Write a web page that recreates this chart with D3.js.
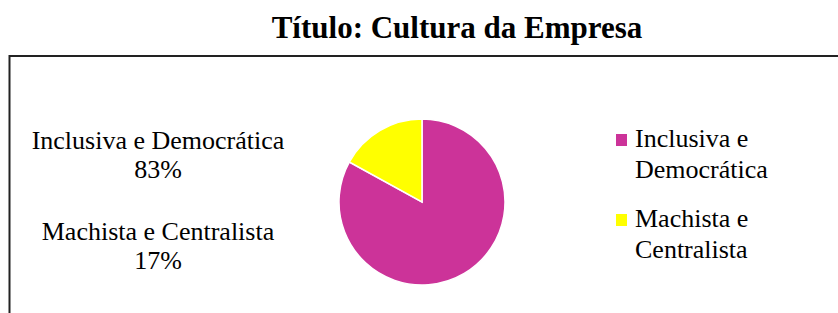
<!DOCTYPE html>
<html>
<head>
<meta charset="utf-8">
<script src="https://cdn.jsdelivr.net/npm/d3@7"></script>
<style>
  body { margin: 0; background: #fff; }
  text { font-family: 'Liberation Serif', 'Times New Roman', serif; fill: #000; }
</style>
</head>
<body>
<div id="chart-container"></div>
<script>
const categories = ['Inclusiva e Democrática', 'Machista e Centralista']
const legendLines = [['Inclusiva e', 'Democrática'], ['Machista e', 'Centralista']]
const values = [83, 17]
const colors = ['#cc3399', '#ffff00']
const title = 'Título: Cultura da Empresa'

const width = 838
const height = 313
const center = { x: 422, y: 202 }
const radius = 83

const svg = d3
  .select('#chart-container')
  .append('svg')
  .attr('width', width)
  .attr('height', height)

// chart area border (runs off the right and bottom)
svg
  .append('rect')
  .attr('x', 9.5)
  .attr('y', 56)
  .attr('width', 860)
  .attr('height', 300)
  .attr('fill', 'none')
  .attr('stroke', '#222')
  .attr('stroke-width', 2)

svg
  .append('text')
  .attr('x', 457)
  .attr('y', 38)
  .attr('text-anchor', 'middle')
  .style('font-size', '31px')
  .style('font-weight', 'bold')
  .text(title)

const pie = d3.pie().sort(null).startAngle(0).endAngle(2 * Math.PI)
const arc = d3.arc().innerRadius(0).outerRadius(radius)

svg
  .append('g')
  .attr('transform', `translate(${center.x},${center.y})`)
  .selectAll('path')
  .data(pie(values))
  .enter()
  .append('path')
  .attr('d', arc)
  .attr('fill', (d, i) => colors[i])
  .attr('stroke', '#fff')
  .attr('stroke-width', 1.5)

// data labels at the left
const labelY = [149, 240]
const labels = svg.append('g')
categories.forEach((name, i) => {
  const t = labels
    .append('text')
    .attr('text-anchor', 'middle')
    .style('font-size', '26px')
  t.append('tspan').attr('x', 158).attr('y', labelY[i]).text(name)
  t.append('tspan').attr('x', 158).attr('y', labelY[i] + 29).text(`${values[i]}%`)
})

// legend
const legendY = [147, 227]
const legend = svg.append('g')
legendLines.forEach((lines, i) => {
  legend
    .append('rect')
    .attr('x', 616)
    .attr('y', legendY[i] - 13)
    .attr('width', 11)
    .attr('height', 12)
    .attr('fill', colors[i])
  const t = legend.append('text').style('font-size', '26px')
  lines.forEach((line, j) => {
    t.append('tspan').attr('x', 635).attr('y', legendY[i] + j * 31).text(line)
  })
})
</script>
</body>
</html>
